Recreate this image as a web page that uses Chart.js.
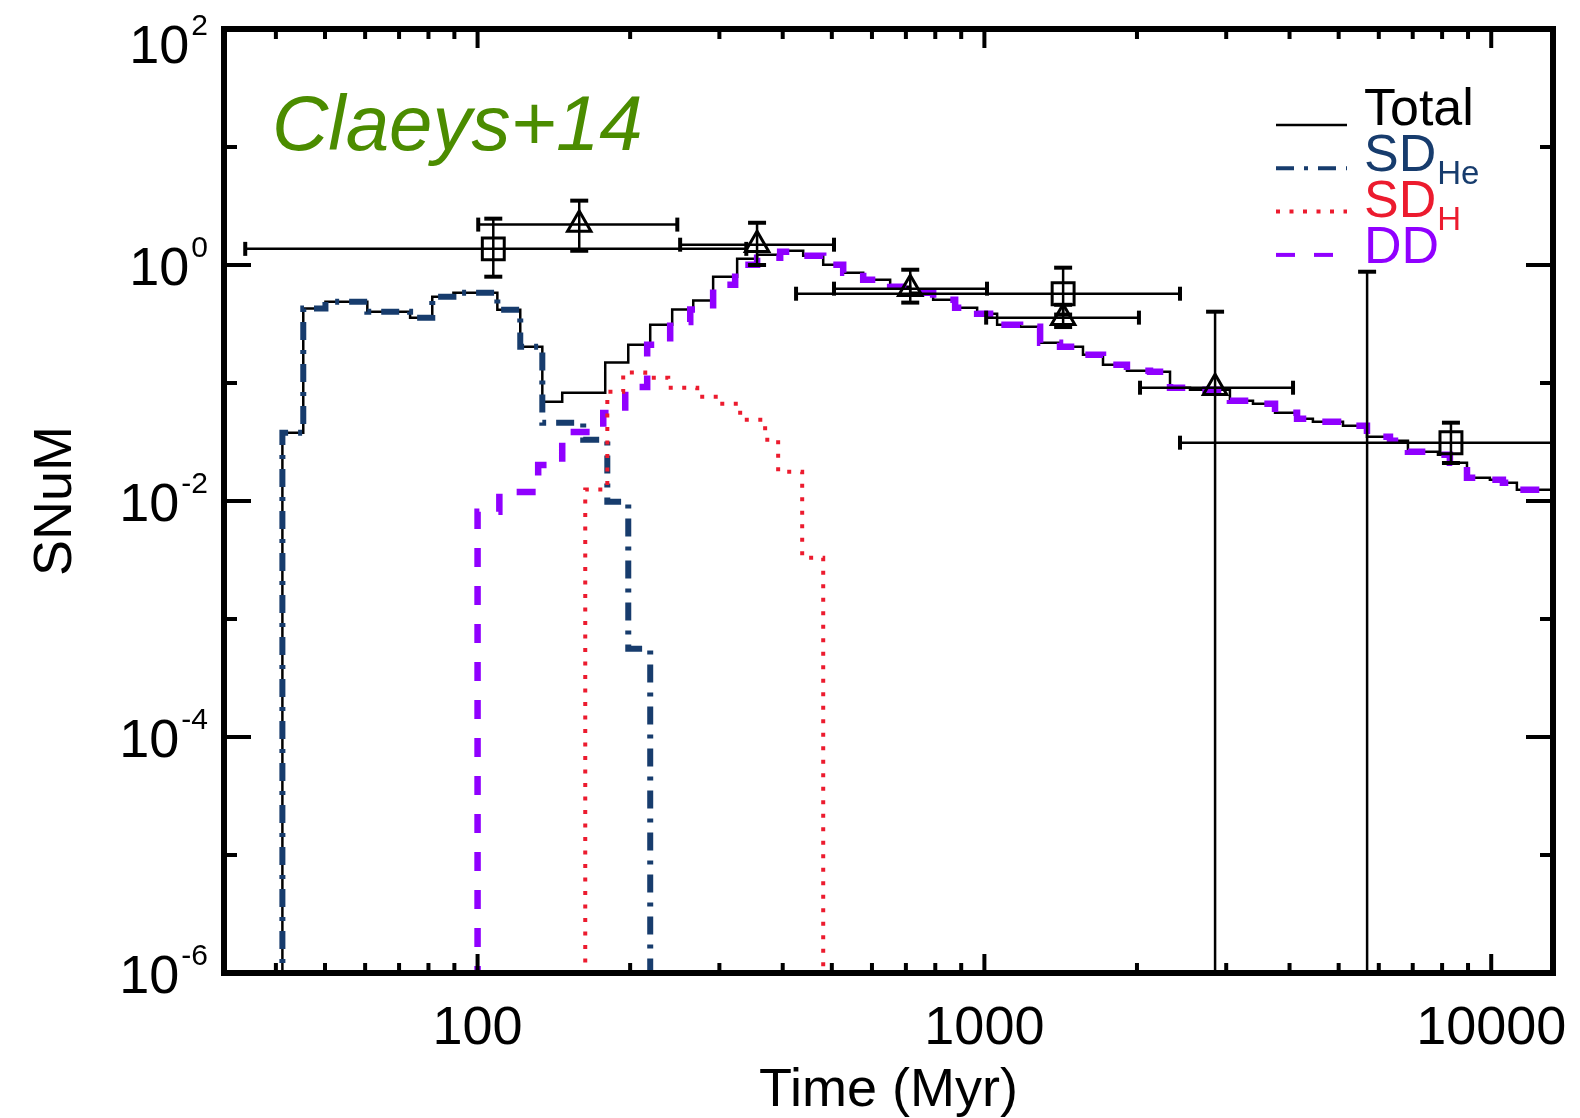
<!DOCTYPE html>
<html>
<head>
<meta charset="utf-8">
<title>SNuM vs time</title>
<script src="https://cdn.jsdelivr.net/npm/chart.js@4.4.1/dist/chart.umd.min.js"></script>
<style>
  html, body { margin: 0; padding: 0; background: #ffffff; }
  #wrap { width: 1580px; height: 1118px; }
</style>
</head>
<body>
<div id="wrap"><canvas id="c" width="1580" height="1118"></canvas></div>
<script>
// ---- axis ranges and ticks ----
const xRange = [31.6, 13240];
const yRange = [1e-6, 100];
const xTickValues = [40, 50, 60, 70, 80, 90, 100, 200, 300, 400, 500, 600, 700, 800, 900,
                     1000, 2000, 3000, 4000, 5000, 6000, 7000, 8000, 9000, 10000];
const xLabelValues = [100, 1000, 10000];
const yTickValues = [1e-6, 1e-5, 1e-4, 1e-3, 1e-2, 1e-1, 1, 10, 100];
const yLabelExponents = [-6, -4, -2, 0, 2];
const xTitle = 'Time (Myr)';
const yTitle = 'SNuM';

// ---- model rates (histograms: value i spans edges[i]..edges[i+1]) ----
const totalEdges = [41.2, 45.3, 50.1, 60.6, 73.6, 81.4, 89.6, 109.4, 121.4, 134.2, 146.9, 178.6,
  198.3, 219.1, 242.1, 266.4, 291.6, 325.2, 356.1, 395.4, 439.0, 480.8, 526.5, 576.6, 651.7,
  713.7, 792.3, 875.6, 967.6, 1059.5, 1176, 1288, 1410, 1565, 1714, 1911, 2122, 2324, 2545,
  3051, 3388, 3745, 4139, 4448, 5100, 5686, 6313, 6850, 7851, 8288, 8957, 9940, 10545, 11236, 13240];
const totalValues = [0.0379, 0.427, 0.488, 0.402, 0.357, 0.538, 0.582, 0.418, 0.203, 0.0695,
  0.0828, 0.149, 0.211, 0.312, 0.420, 0.500, 0.796, 1.131, 1.223, 1.322, 1.20, 1.006, 0.860,
  0.751, 0.655, 0.582, 0.508, 0.435, 0.387, 0.312, 0.300, 0.2196, 0.2031, 0.1738, 0.1429,
  0.1271, 0.1246, 0.0912, 0.0877, 0.0708, 0.0668, 0.0560, 0.0498, 0.0470, 0.0435, 0.0351,
  0.0324, 0.0262, 0.0247, 0.0211, 0.01576, 0.01515, 0.01429, 0.01247];

const sdHeEdges = [41.2, 45.3, 50.1, 60.6, 73.6, 81.4, 89.6, 109.4, 121.4, 134.2, 161.6, 180.3, 198.3, 219.1];
const sdHeValues = [0.0379, 0.427, 0.488, 0.402, 0.357, 0.538, 0.582, 0.418, 0.203, 0.0461,
  0.0331, 0.00986, 0.00056];

const sdHEdges = [163.1, 180.3, 193.8, 214.2, 237.8, 271.3, 301.0, 329.7, 369.3, 391.8, 437.0, 480.8];
const sdHValues = [0.0125, 0.0844, 0.1225, 0.111, 0.0912, 0.0765, 0.0668, 0.0489, 0.0331, 0.0177, 0.0033];

const ddEdges = [100, 110.4, 131.7, 146.9, 177.0, 195.6, 216.1, 239.9, 262.8, 291.6, 322.3,
  356.1, 395.4, 439.0, 480.8, 526.5, 576.6, 651.7, 713.7, 792.3, 875.6, 967.6, 1059.5, 1176,
  1288, 1410, 1565, 1714, 1911, 2122, 2324, 2545, 3051, 3388, 3745, 4139, 4448, 5100, 5686,
  6313, 6850, 7851, 8288, 8957, 9940, 10545, 11236, 13240];
const ddValues = [0.0081, 0.0119, 0.0202, 0.0384, 0.0557, 0.0925, 0.2113, 0.329, 0.42, 0.68,
  1.006, 1.153, 1.296, 1.199, 1.006, 0.860, 0.751, 0.655, 0.582, 0.508, 0.435, 0.387, 0.312,
  0.300, 0.2196, 0.2031, 0.1738, 0.1429, 0.1271, 0.1246, 0.0912, 0.0877, 0.0708, 0.0668,
  0.0560, 0.0498, 0.0470, 0.0435, 0.0351, 0.0324, 0.0262, 0.0247, 0.0211, 0.01576, 0.01515,
  0.01429, 0.01247];

// ---- measured rates with errors (0 = consistent with zero) ----
const obsX    = [107.4, 158.7, 356, 714, 1430, 1430, 2852, 5690, 8328];
const obsY    = [1.37, 2.20, 1.486, 0.63, 0.571, 0.358, 0.0912, 0, 0.0312];
const obsXLo  = [34.8, 100.3, 251, 505, 425, 1008, 2028, 5690, 2432];
const obsXHi  = [339, 247.8, 505, 1012, 2432, 2018, 4064, 5690, 28500];
const obsYLo  = [0.796, 1.32, 1.0, 0.48, 0.38, 0.298, 0, 0, 0.021];
const obsYHi  = [2.47, 3.51, 2.28, 0.912, 0.949, 0.46, 0.402, 0.877, 0.0461];
const obsShape = ['rect', 'triangle', 'triangle', 'triangle', 'rect', 'triangle', 'triangle', 'triangle', 'rect'];

// ---- legend text ----
const legendNames = ['Total', 'SD', 'SD', 'DD'];
const legendSubs = ['', 'He', 'H', ''];
const panelTitle = 'Claeys+14';

const FONT = '"Liberation Sans", Arial, Helvetica, sans-serif';
const BELOW_AXIS = 1e-9;   // stand-in for a zero rate on the log axis

function stepPoints(edges, values, dropAtEnd) {
  const pts = [{ x: edges[0], y: BELOW_AXIS }];
  values.forEach((v, i) => pts.push({ x: edges[i + 1], y: v > 0 ? v : BELOW_AXIS }));
  if (dropAtEnd) pts.push({ x: edges[edges.length - 1], y: BELOW_AXIS });
  return pts;
}

const markerPoints = [];
obsX.forEach((xv, i) => { if (obsY[i] > 0) markerPoints.push({ x: xv, y: obsY[i], shape: obsShape[i] }); });

function line(ctx, x0, y0, x1, y1) {
  ctx.beginPath(); ctx.moveTo(x0, y0); ctx.lineTo(x1, y1); ctx.stroke();
}

const decorations = {
  id: 'decorations',
  afterDatasetsDraw(chart) {
    const { ctx, chartArea: a, scales: { x, y } } = chart;
    ctx.save();
    ctx.beginPath();
    ctx.rect(a.left, a.top, a.right - a.left, a.bottom - a.top);
    ctx.clip();
    ctx.strokeStyle = '#000';
    ctx.setLineDash([]);
    obsX.forEach((xv, i) => {
      const px = x.getPixelForValue(xv);
      if (obsY[i] > 0 && obsXHi[i] > obsXLo[i]) {
        const py = y.getPixelForValue(obsY[i]);
        const x0 = x.getPixelForValue(obsXLo[i]);
        const x1 = x.getPixelForValue(obsXHi[i]);
        ctx.lineWidth = 2.5; line(ctx, x0, py, x1, py);
        ctx.lineWidth = 4;
        line(ctx, x0, py - 7, x0, py + 7);
        line(ctx, x1, py - 7, x1, py + 7);
      }
      const yTop = y.getPixelForValue(obsYHi[i]);
      const yBot = obsYLo[i] > 0 ? y.getPixelForValue(obsYLo[i]) : a.bottom + 20;
      ctx.lineWidth = 2.5; line(ctx, px, yTop, px, yBot);
      ctx.lineWidth = 4;
      line(ctx, px - 9, yTop, px + 9, yTop);
      if (obsYLo[i] > 0) line(ctx, px - 9, yBot, px + 9, yBot);
    });
    ctx.restore();
  },
  afterDraw(chart) {
    const { ctx, chartArea: a, scales: { x, y } } = chart;
    ctx.save();
    ctx.setLineDash([]);
    ctx.strokeStyle = '#000';
    ctx.fillStyle = '#000';

    // inward tick marks on all four sides
    ctx.lineWidth = 4;
    xTickValues.forEach(v => {
      const px = x.getPixelForValue(v);
      const major = Math.abs(Math.log10(v) - Math.round(Math.log10(v))) < 1e-9;
      const len = major ? 19 : 10;
      line(ctx, px, a.bottom, px, a.bottom - len);
      line(ctx, px, a.top, px, a.top + len);
    });
    yTickValues.forEach(v => {
      const py = y.getPixelForValue(v);
      const e = Math.round(Math.log10(v));
      const len = (e % 2 === 0) ? 27 : 13;
      line(ctx, a.left, py, a.left + len, py);
      line(ctx, a.right, py, a.right - len, py);
    });

    // frame
    ctx.lineWidth = 6;
    ctx.strokeRect(a.left, a.top, a.right - a.left, a.bottom - a.top);

    // y tick labels: 10 with a raised exponent
    ctx.textBaseline = 'alphabetic';
    ctx.textAlign = 'right';
    const labelRight = a.left - 16;
    yLabelExponents.forEach(e => {
      const py = y.getPixelForValue(Math.pow(10, e));
      const base = Math.max(py + 20, 63);
      const exp = String(e);
      ctx.font = '30px ' + FONT;
      ctx.fillText(exp, labelRight, base - 28);
      const w = ctx.measureText(exp).width;
      ctx.font = '54px ' + FONT;
      ctx.fillText('10', labelRight - w - 2, base);
    });

    // axis titles
    ctx.font = '54px ' + FONT;
    ctx.textAlign = 'center';
    ctx.fillText(xTitle, (a.left + a.right) / 2, a.bottom + 133);
    ctx.save();
    ctx.translate(71, (a.top + a.bottom) / 2);
    ctx.rotate(-Math.PI / 2);
    ctx.fillText(yTitle, 0, 0);
    ctx.restore();

    // panel title
    ctx.textAlign = 'left';
    ctx.font = 'italic 78px ' + FONT;
    ctx.fillStyle = '#4b8c00';
    ctx.fillText(panelTitle, 272, 150);

    // legend
    const ds = chart.data.datasets;
    const lx0 = a.right - 277, lx1 = a.right - 206, tx = a.right - 189;
    legendNames.forEach((name, i) => {
      const d = ds[i];
      const base = 125 + i * 46;
      const ly = base - i * 2.7;
      ctx.strokeStyle = d.borderColor;
      ctx.lineWidth = Math.min(d.borderWidth, 4);
      ctx.setLineDash(d.borderDash || []);
      line(ctx, lx0, ly, lx1, ly);
      ctx.setLineDash([]);
      ctx.fillStyle = d.borderColor;
      ctx.font = '52px ' + FONT;
      ctx.fillText(name, tx, base);
      if (legendSubs[i]) {
        const w = ctx.measureText(name).width;
        ctx.font = '33px ' + FONT;
        ctx.fillText(legendSubs[i], tx + w + 1, base + 13);
      }
    });
    ctx.restore();
  }
};

const chart = new Chart(document.getElementById('c'), {
  type: 'scatter',
  data: {
    datasets: [
      { label: 'Total', data: stepPoints(totalEdges, totalValues, false), showLine: true, stepped: 'after',
        borderColor: '#000000', borderWidth: 2.5, pointRadius: 0, order: 4 },
      { label: 'SD_He', data: stepPoints(sdHeEdges, sdHeValues, true), showLine: true, stepped: 'after',
        borderColor: '#173c6d', borderWidth: 6, borderDash: [18, 10, 4, 10], pointRadius: 0, order: 3 },
      { label: 'SD_H', data: stepPoints(sdHEdges, sdHValues, true), showLine: true, stepped: 'after',
        borderColor: '#ec1b2e', borderWidth: 4, borderDash: [4, 9.5], pointRadius: 0, order: 1 },
      { label: 'DD', data: stepPoints(ddEdges, ddValues, false), showLine: true, stepped: 'after',
        borderColor: '#9000ff', borderWidth: 6.5, borderDash: [19, 19], pointRadius: 0, order: 2 },
      { label: 'data', data: markerPoints, showLine: false, order: 0,
        pointStyle: c => c.raw ? c.raw.shape : 'rect',
        pointRadius: c => (c.raw && c.raw.shape === 'rect') ? 15.5 : 13.5,
        borderColor: '#000000', borderWidth: 3, backgroundColor: 'rgba(0,0,0,0)' }
    ]
  },
  options: {
    responsive: false,
    animation: false,
    devicePixelRatio: 1,
    layout: { padding: { top: 29, right: 27, left: 0, bottom: 0 } },
    plugins: { legend: { display: false }, tooltip: { enabled: false } },
    scales: {
      x: {
        type: 'logarithmic', position: 'bottom', min: xRange[0], max: xRange[1],
        grid: { display: false, drawTicks: false }, border: { display: false },
        // the axis end is kept as a last, unlabeled tick so the label layout stays at the edge
        afterBuildTicks: s => { s.ticks = xTickValues.concat([xRange[1]]).map(v => ({ value: v })); },
        afterFit: s => { s.height = 145; },
        ticks: {
          autoSkip: false, maxRotation: 0, padding: 24, color: '#000',
          font: { family: FONT, size: 54 },
          callback: v => xLabelValues.includes(v) ? String(v) : ''
        },
        title: { display: false }
      },
      y: {
        type: 'logarithmic', position: 'left', min: yRange[0], max: yRange[1],
        grid: { display: false, drawTicks: false }, border: { display: false },
        afterBuildTicks: s => { s.ticks = yTickValues.map(v => ({ value: v })); },
        afterFit: s => { s.width = 224; },
        ticks: { display: false },
        title: { display: false }
      }
    }
  },
  plugins: [decorations]
});
</script>
</body>
</html>
